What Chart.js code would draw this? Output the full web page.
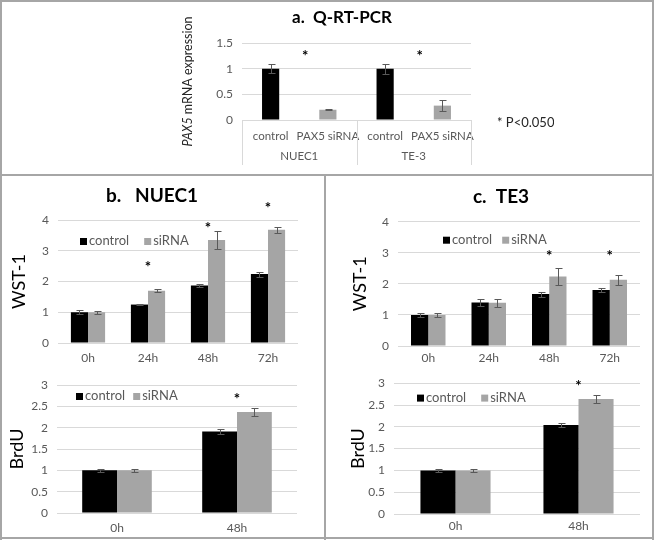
<!DOCTYPE html>
<html lang="en">
<head>
<meta charset="UTF-8">
<title>PAX5 knockdown - Q-RT-PCR, WST-1 and BrdU</title>
<script src="https://cdn.jsdelivr.net/npm/chart.js"></script>
<style>
  body { margin: 0; background: #fff; }
  #fig { position: relative; width: 654px; height: 540px; overflow: hidden; background: #fff; }
  #fig canvas { position: absolute; }
  .rule { position: absolute; background: #a6a6a6; }
</style>
</head>
<body>
<div id="fig">
  <canvas id="qpcr" width="424" height="172" style="left:130px;top:2px"></canvas>
  <canvas id="nuecWst" width="300" height="190" style="left:2px;top:177px"></canvas>
  <canvas id="nuecBrdu" width="322" height="172" style="left:2px;top:367px"></canvas>
  <canvas id="te3Wst" width="348" height="190" style="left:327px;top:177px"></canvas>
  <canvas id="te3Brdu" width="325" height="172" style="left:327px;top:367px"></canvas>

  <!-- panel frames -->
  <div class="rule" style="left:0;top:0;width:654px;height:2px"></div>
  <div class="rule" style="left:0;top:537px;width:654px;height:2px"></div>
  <div class="rule" style="left:0;top:0;width:2px;height:540px"></div>
  <div class="rule" style="left:652px;top:0;width:2px;height:540px"></div>
  <div class="rule" style="left:0;top:174px;width:654px;height:2px"></div>
  <div class="rule" style="left:324px;top:175px;width:2px;height:365px"></div>
</div>

<script>
// a. Q-RT-PCR
const qpcrLabels = ['control', 'PAX5 siRNA', 'control', 'PAX5 siRNA'];
const qpcrGroups = ['NUEC1', 'TE-3'];
const qpcrValues = [1.0, 0.2, 1.0, 0.28];
const qpcrErrors = [0.09, 0.01, 0.1, 0.11];
const qpcrStars = [1.3, 1.3];          // one per cell line

// WST-1 time course
const wstTimes = ['0h', '24h', '48h', '72h'];
const nuecWstControl = [1.0, 1.25, 1.87, 2.24];
const nuecWstControlErr = [0.07, 0.03, 0.05, 0.08];
const nuecWstSirna = [1.0, 1.7, 3.35, 3.68];
const nuecWstSirnaErr = [0.05, 0.05, 0.28, 0.1];
const nuecWstStars = [null, 2.57, 3.84, 4.49];

const te3WstControl = [1.0, 1.4, 1.67, 1.8];
const te3WstControlErr = [0.06, 0.1, 0.08, 0.06];
const te3WstSirna = [1.0, 1.39, 2.24, 2.13];
const te3WstSirnaErr = [0.07, 0.13, 0.27, 0.17];
const te3WstStars = [null, null, 3.0, 3.0];

// BrdU
const brduTimes = ['0h', '48h'];
const nuecBrduControl = [1.0, 1.91];
const nuecBrduControlErr = [0.03, 0.07];
const nuecBrduSirna = [1.0, 2.37];
const nuecBrduSirnaErr = [0.03, 0.09];
const nuecBrduStars = [null, 2.74];

const te3BrduControl = [1.0, 2.04];
const te3BrduControlErr = [0.03, 0.04];
const te3BrduSirna = [1.0, 2.64];
const te3BrduSirnaErr = [0.03, 0.09];
const te3BrduStars = [null, 3.0];

const BLACK = '#000000';
const GREY = '#a5a5a5';
const GRID = '#d9d9d9';
const TEXT = '#595959';
const FONT = 'Lato, "Open Sans", sans-serif';

Chart.defaults.font.family = FONT;
Chart.defaults.color = TEXT;

// error bars, asterisks, in-plot legend, axis titles and the extra axis bits for panel a
const extras = {
  id: 'extras',
  afterDraw(chart, args, opts) {
    const { ctx, chartArea: area, scales: { x, y } } = chart;
    ctx.save();

    ctx.strokeStyle = TEXT;
    ctx.lineWidth = 1;
    chart.data.datasets.forEach((ds, i) => {
      chart.getDatasetMeta(i).data.forEach((bar, j) => {
        const e = ds.err && ds.err[j];
        if (!e) return;
        const cx = Math.round(bar.x) + 0.5;
        const hi = Math.round(y.getPixelForValue(ds.data[j] + e)) + 0.5;
        const lo = Math.round(y.getPixelForValue(ds.data[j] - e)) + 0.5;
        ctx.beginPath();
        ctx.moveTo(cx, hi); ctx.lineTo(cx, lo);
        ctx.moveTo(cx - 3, hi); ctx.lineTo(cx + 4, hi);
        ctx.moveTo(cx - 3, lo); ctx.lineTo(cx + 4, lo);
        ctx.stroke();
      });
    });

    ctx.fillStyle = '#000';
    ctx.font = 'bold 15px ' + FONT;
    ctx.textAlign = 'center';
    ctx.textBaseline = 'alphabetic';
    (opts.stars || []).forEach((v, j) => {
      if (v == null) return;
      const sx = opts.starsBetween
        ? (x.getPixelForValue(2 * j) + x.getPixelForValue(2 * j + 1)) / 2
        : x.getPixelForValue(j);
      ctx.fillText('*', sx + (opts.starDx || 0), y.getPixelForValue(v) + 8);
    });

    if (opts.legend) {
      const L = opts.legend;
      let lx = area.left + L.dx;
      const ly = area.top + L.dy;
      ctx.font = '13px ' + FONT;
      ctx.textAlign = 'left';
      ctx.textBaseline = 'middle';
      chart.data.datasets.forEach(ds => {
        ctx.fillStyle = ds.backgroundColor;
        ctx.fillRect(lx, ly - 3, 7, 7);
        lx += 9;
        ctx.fillStyle = TEXT;
        ctx.fillText(ds.label, lx, ly);
        lx += ctx.measureText(ds.label).width + L.gap;
      });
    }

    if (opts.groups) {
      const n = chart.data.labels.length;
      const per = n / opts.groups.length;
      ctx.strokeStyle = GRID;
      ctx.beginPath();
      for (let g = 0; g <= opts.groups.length; g++) {
        let gx;
        if (g === 0) gx = area.left;
        else if (g === opts.groups.length) gx = area.right;
        else gx = (x.getPixelForValue(g * per - 1) + x.getPixelForValue(g * per)) / 2;
        gx = Math.round(gx) + 0.5;
        ctx.moveTo(gx, area.bottom);
        ctx.lineTo(gx, area.bottom + 45);
      }
      ctx.stroke();
      ctx.fillStyle = TEXT;
      ctx.font = '11.5px ' + FONT;
      ctx.textAlign = 'center';
      ctx.textBaseline = 'middle';
      opts.groups.forEach((name, g) => {
        const gx = (x.getPixelForValue(g * per) + x.getPixelForValue(g * per + per - 1)) / 2;
        ctx.fillText(name, gx, area.bottom + 36);
      });
    }

    if (opts.note) {
      ctx.fillStyle = '#262626';
      ctx.font = '13px ' + FONT;
      ctx.textAlign = 'left';
      ctx.textBaseline = 'middle';
      ctx.fillText(opts.note, area.right + 26, y.getPixelForValue(0) + 3);
    }

    if (opts.yTitle) {
      // rotated axis title, parts may be italic (gene name)
      const T = opts.yTitle;
      ctx.translate(area.left - T.dx, (area.top + area.bottom) / 2 + (T.dy || 0));
      ctx.rotate(-Math.PI / 2);
      ctx.fillStyle = T.color;
      ctx.textAlign = 'left';
      ctx.textBaseline = 'middle';
      const fonts = T.parts.map(p => (p.italic ? 'italic ' : '') + T.size + 'px ' + FONT);
      let total = 0;
      T.parts.forEach((p, k) => { ctx.font = fonts[k]; total += ctx.measureText(p.text).width; });
      let tx = -total / 2;
      T.parts.forEach((p, k) => {
        ctx.font = fonts[k];
        ctx.fillText(p.text, tx, 0);
        tx += ctx.measureText(p.text).width;
      });
    }

    ctx.restore();
  }
};

const plainNumber = v => String(v);

new Chart(document.getElementById('qpcr'), {
  type: 'bar',
  data: {
    labels: qpcrLabels,
    datasets: [{
      data: qpcrValues,
      err: qpcrErrors,
      backgroundColor: [BLACK, GREY, BLACK, GREY],
      barPercentage: 0.3,
      categoryPercentage: 1
    }]
  },
  options: {
    responsive: false,
    animation: false,
    layout: { padding: { left: 83, right: 83, top: 0, bottom: 9 } },
    plugins: {
      legend: { display: false },
      tooltip: { enabled: false },
      title: {
        display: true,
        text: 'a.  Q-RT-PCR',
        color: '#000',
        font: { size: 17, weight: 'bold' },
        padding: { top: 5, bottom: 15.6 }
      },
      extras: {
        stars: qpcrStars,
        starsBetween: true,
        starDx: 6,
        groups: qpcrGroups,
        note: '* P<0.050',
        yTitle: {
          parts: [{ text: 'PAX5', italic: true }, { text: ' mRNA expression' }],
          size: 12.5, color: '#262626', dx: 54, dy: 0
        }
      }
    },
    scales: {
      x: {
        grid: { display: false, drawTicks: false },
        border: { display: false },
        ticks: { autoSkip: false, maxRotation: 0, minRotation: 0, padding: 9, font: { size: 11.5 } },
        afterFit: s => { s.height = 45; }
      },
      y: {
        min: 0,
        max: 1.5,
        ticks: { stepSize: 0.5, padding: 9, font: { size: 12 }, callback: plainNumber },
        grid: { color: GRID, drawTicks: false },
        border: { display: false },
        afterFit: s => { s.width = 29; }
      }
    }
  },
  plugins: [extras]
});

function timeChart(id, o) {
  return new Chart(document.getElementById(id), {
    type: 'bar',
    data: {
      labels: o.labels,
      datasets: [
        { label: 'control', data: o.control, err: o.controlErr, backgroundColor: BLACK },
        { label: 'siRNA', data: o.sirna, err: o.sirnaErr, backgroundColor: GREY }
      ]
    },
    options: {
      responsive: false,
      animation: false,
      layout: { padding: o.padding },
      datasets: { bar: { categoryPercentage: o.catPct, barPercentage: 1 } },
      plugins: {
        legend: { display: false },
        tooltip: { enabled: false },
        title: o.title ? {
          display: true,
          text: o.title,
          color: '#000',
          font: { size: 19, weight: 'bold' },
          padding: o.titlePad
        } : { display: false },
        extras: {
          stars: o.stars,
          legend: o.legend,
          yTitle: { parts: [{ text: o.yTitle }], size: 18, color: '#000', dx: o.yTitleDx }
        }
      },
      scales: {
        x: {
          grid: { display: false, drawTicks: false },
          border: { display: false },
          ticks: { padding: o.xPad, font: { size: 12 } },
          afterFit: s => { s.height = o.xHeight; }
        },
        y: {
          min: 0,
          max: o.max,
          ticks: { stepSize: o.step, padding: 9, font: { size: 12 }, callback: plainNumber },
          grid: { color: GRID, drawTicks: false },
          border: { display: false },
          afterFit: s => { s.width = o.yWidth; }
        }
      }
    },
    plugins: [extras]
  });
}

timeChart('nuecWst', {
  labels: wstTimes, control: nuecWstControl, controlErr: nuecWstControlErr,
  sirna: nuecWstSirna, sirnaErr: nuecWstSirnaErr, stars: nuecWstStars,
  title: 'b.   NUEC1', titlePad: { top: 7.6, bottom: 12.6 },
  yTitle: 'WST-1', yTitleDx: 39, yWidth: 52, max: 4, step: 1,
  padding: { left: 4, right: 4, top: 0, bottom: 0 },
  xPad: 8, xHeight: 24, catPct: 0.57,
  legend: { dx: 22, dy: 21, gap: 15 }
});

timeChart('te3Wst', {
  labels: wstTimes, control: te3WstControl, controlErr: te3WstControlErr,
  sirna: te3WstSirna, sirnaErr: te3WstSirnaErr, stars: te3WstStars,
  title: 'c.  TE3', titlePad: { top: 8.6, bottom: 13.3 },
  yTitle: 'WST-1', yTitleDx: 38, yWidth: 36, max: 4, step: 1,
  padding: { left: 35, right: 35, top: 0, bottom: 0 },
  xPad: 5, xHeight: 21, catPct: 0.57,
  legend: { dx: 45, dy: 18, gap: 10 }
});

timeChart('nuecBrdu', {
  labels: brduTimes, control: nuecBrduControl, controlErr: nuecBrduControlErr,
  sirna: nuecBrduSirna, sirnaErr: nuecBrduSirnaErr, stars: nuecBrduStars,
  yTitle: 'BrdU', yTitleDx: 40, yWidth: 55, max: 3, step: 0.5,
  padding: { left: 0, right: 27, top: 18, bottom: 2 },
  xPad: 7.5, xHeight: 24, catPct: 0.58,
  legend: { dx: 19, dy: 11, gap: 8 }
});

timeChart('te3Brdu', {
  labels: brduTimes, control: te3BrduControl, controlErr: te3BrduControlErr,
  sirna: te3BrduSirna, sirnaErr: te3BrduSirnaErr, stars: te3BrduStars,
  yTitle: 'BrdU', yTitleDx: 36, yWidth: 67, max: 3, step: 0.5,
  padding: { left: 0, right: 12, top: 15.3, bottom: 3 },
  xPad: 5, xHeight: 22, catPct: 0.57,
  legend: { dx: 23, dy: 14.4, gap: 15 }
});
</script>
</body>
</html>
